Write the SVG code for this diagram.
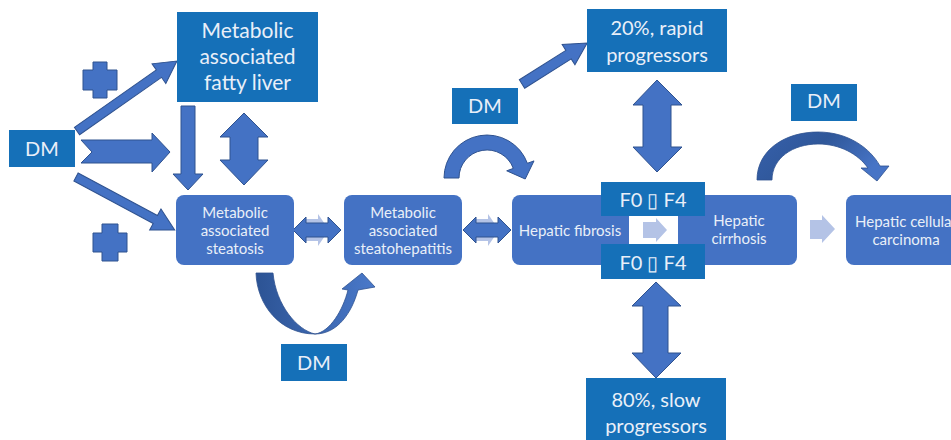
<svg xmlns="http://www.w3.org/2000/svg" width="951" height="440" viewBox="0 0 951 440">
<defs>
<style>
.dk{fill:#1570b8}
.rb{fill:#4472c4}
.ar{fill:#4472c4;stroke:#2f528f;stroke-width:1;stroke-linejoin:miter}
.lt{fill:#b4c3e6}
.t{font-family:Lato,"Open Sans",sans-serif;fill:#e9eff8;text-anchor:middle}
.big{font-size:20px}
.sm{font-size:15px}
</style>
<linearGradient id="gU" x1="0" y1="0" x2="1" y2="0">
<stop offset="0" stop-color="#2c5394"/>
<stop offset="1" stop-color="#4a79ca"/>
</linearGradient>
<linearGradient id="gR" x1="0" y1="0" x2="1" y2="0.4">
<stop offset="0" stop-color="#3761ad"/>
<stop offset="0.5" stop-color="#2f5799"/>
<stop offset="1" stop-color="#4774c6"/>
</linearGradient>
</defs>
<rect width="951" height="440" fill="#ffffff"/>

<g id="connectors">
<!-- plus signs -->
<path class="ar" d="M93,62 H107 V70 H117 V90 H107 V98 H93 V90 H83 V70 H93 Z"/>
<path class="ar" d="M102,224 H118 V233 H127 V252 H118 V261 H102 V252 H93 V233 H102 Z"/>
<!-- DM -> fatty liver -->
<g transform="translate(77,131) rotate(-35)"><polygon class="ar" points="0,-4.5 100,-4.5 100,-12 122,0 100,12 100,4.5 0,4.5"/></g>
<!-- DM -> steatosis -->
<g transform="translate(76,177) rotate(28.2)"><polygon class="ar" points="0,-4.5 90,-4.5 90,-12 112,0 90,12 90,4.5 0,4.5"/></g>
<!-- chevron arrow -->
<polygon class="ar" points="81,140 152,140 152,133 170,152 152,172 152,163 81,163 92,152"/>
<!-- down arrow fatty liver -> steatosis -->
<polygon class="ar" points="181,106 195,106 195,174 203,174 188,190 173,174 181,174"/>
<!-- double vertical -->
<polygon class="ar" points="244,113 268,137 258,137 258,160 268,160 244,185 220,160 230,160 230,137 220,137"/>
<!-- light shadows behind horizontal double arrows -->
<polygon class="lt" points="306,219 318,219 318,214 329,230 318,246 318,241 306,241"/>
<polygon class="lt" points="476,219 488,219 488,214 499,230 488,246 488,241 476,241"/>
<!-- horizontal double arrows -->
<polygon class="ar" points="293,230 306,217 306,223 328,223 328,217 341,230 328,243 328,237 306,237 306,243"/>
<polygon class="ar" points="463,230 476,217 476,223 498,223 498,217 511,230 498,243 498,237 476,237 476,243"/>
<!-- U arrow below -->
<path fill="url(#gU)" stroke="#2f528f" stroke-width="0.8" d="M256,273 C257,305 280,334 315,334 C338,334 352,312 358,290 L375,287 L362,273 L342,289 L348,290 C343,310 330,332 315,334 C297,330 276,305 273,273 Z"/>
<!-- curved arrow near fibrosis -->
<path class="ar" d="M444,178 A43,43 0 0 1 527.4,163.3 L534,160.9 L525.2,179 L506.7,170.8 L513.3,168.4 A28,28 0 0 0 459,178 Z"/>
<!-- DM -> 20% -->
<g transform="translate(522,84) rotate(-32.2)"><polygon class="ar" points="0,-5 55,-5 55,-12 77,0 55,12 55,5 0,5"/></g>
<!-- vertical double arrow top -->
<polygon class="ar" points="657,80 682,105 671,105 671,147 682,147 657,172 633,147 643,147 643,105 633,105"/>
<!-- vertical double arrow bottom -->
<polygon class="ar" points="656,282 681,306 668,306 668,353 681,353 656,378 632,353 643,353 643,306 632,306"/>
<!-- curved arrow cirrhosis -> HCC -->
<path fill="url(#gR)" stroke="#2f528f" stroke-width="0.8" d="M757,180 C757,150 785,132 818,132 C848,132 870,148 880,166 L889,166 L877,181 L861,168 L868,168 C858,154 840,144 818,144 C793,144 772,158 772,180 Z"/>
<!-- light arrow cirrhosis -> HCC -->
<polygon class="lt" points="810,220 822,220 822,215 835,229 822,243 822,239 810,239"/>
</g>

<g id="dm-left"><rect class="dk" x="9" y="130" width="66" height="37"/><text class="t big" x="42" y="156">DM</text></g>

<g id="fatty-liver"><rect class="dk" x="177" y="12" width="141" height="90"/>
<text class="t" style="font-size:21px" x="247.5" y="38">Metabolic</text>
<text class="t" style="font-size:21px" x="247.5" y="64">associated</text>
<text class="t" style="font-size:21px" x="247.5" y="90">fatty liver</text></g>

<g id="steatosis"><rect class="rb" x="176" y="195" width="118" height="70" rx="8"/>
<text class="t sm" x="235" y="218">Metabolic</text>
<text class="t sm" x="235" y="236">associated</text>
<text class="t sm" x="235" y="254">steatosis</text></g>

<g id="steatohepatitis"><rect class="rb" x="344" y="195" width="118" height="70" rx="8"/>
<text class="t sm" x="403" y="218">Metabolic</text>
<text class="t sm" x="403" y="236">associated</text>
<text class="t sm" x="403" y="254">steatohepatitis</text></g>

<g id="dm-bottom"><rect class="dk" x="281" y="344" width="66" height="37"/><text class="t big" x="314" y="370">DM</text></g>

<g id="fibrosis-cirrhosis"><rect class="rb" x="512" y="195" width="285" height="70" rx="8"/>
<text class="t sm" x="570" y="236">Hepatic fibrosis</text>
<text class="t sm" x="739" y="226">Hepatic</text>
<text class="t sm" x="739" y="244">cirrhosis</text>
<rect fill="#ffffff" x="629" y="215" width="49" height="30"/>
<polygon class="lt" points="643,222 656,222 656,218 667,230 656,242 656,238 643,238"/></g>

<g id="f0f4-top"><rect class="dk" x="601" y="182" width="104" height="34"/><text class="t big" x="653" y="207">F0 ▯ F4</text></g>
<g id="f0f4-bottom"><rect class="dk" x="601" y="244" width="104" height="35"/><text class="t big" x="653" y="270">F0 ▯ F4</text></g>

<g id="dm-mid"><rect class="dk" x="452" y="88" width="66" height="36"/><text class="t big" x="485" y="113">DM</text></g>

<g id="rapid"><rect class="dk" x="587" y="9" width="140" height="63"/>
<text class="t big" x="657" y="35">20%, rapid</text>
<text class="t big" x="657" y="62">progressors</text></g>

<g id="slow"><rect class="dk" x="586" y="378" width="140" height="70"/>
<text class="t big" x="656" y="407">80%, slow</text>
<text class="t big" x="656" y="433">progressors</text></g>

<g id="dm-right"><rect class="dk" x="791" y="84" width="66" height="37"/><text class="t big" x="824" y="108">DM</text></g>

<g id="hcc"><rect class="rb" x="846" y="195" width="125" height="70" rx="8"/>
<text class="t sm" x="906" y="227">Hepatic cellular</text>
<text class="t sm" x="906" y="245">carcinoma</text></g>
</svg>
